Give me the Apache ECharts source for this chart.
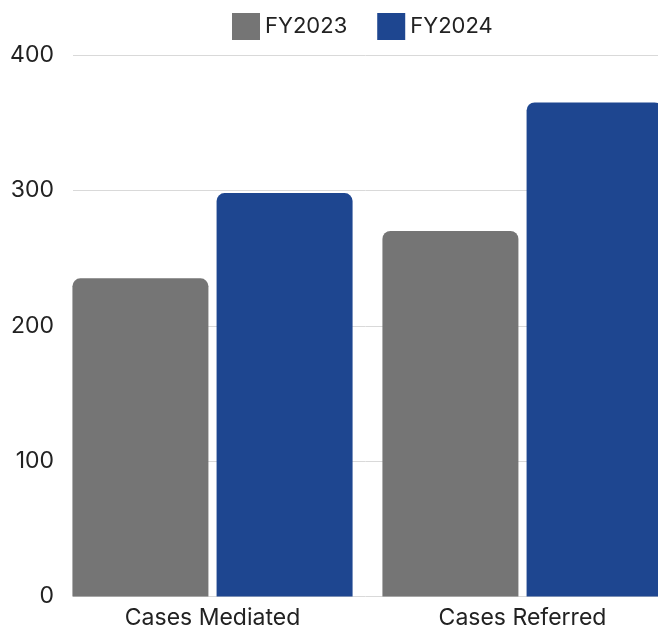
<!DOCTYPE html>
<html>
<head>
<meta charset="utf-8">
<script src="https://cdn.jsdelivr.net/npm/echarts@6/dist/echarts.min.js"></script>
<style>
	html, body { margin: 0; padding: 0; background: #fff; }
	#chart { width: 658px; height: 634px; }
</style>
</head>
<body>
<div id="chart"></div>
<script>
	var categories = ['Cases Mediated', 'Cases Referred'];
	var fy2023 = [235, 270];
	var fy2024 = [298, 365];
	var yTicks = [0, 100, 200, 300, 400];

	var fontFamily = 'Inter, "Noto Sans", sans-serif';
	var fontColor = '#222';

	var myChart = echarts.init(document.getElementById('chart'));
	myChart.setOption({
		color: ['#757575', '#1e4690'],
		animation: false,
		textStyle: { fontFamily: fontFamily },
		legend: {
			top: 8,
			left: 227,
			icon: 'rect',
			itemWidth: 28,
			itemHeight: 27,
			itemGap: 30,
			textStyle: { color: fontColor, fontSize: 22, fontFamily: fontFamily },
			data: ['FY2023', 'FY2024']
		},
		// grid 0 carries the value axis and gridlines, grid 1 carries the bars
		// (bars run past the right edge, so grid 1 is allowed outside the box)
		grid: [
			{ left: 73, right: 0, top: 55, bottom: 37.5, containLabel: false },
			{ left: 57.5, width: 620, top: 55, bottom: 37.5, containLabel: false, outerBoundsMode: 'none' }
		],
		xAxis: [{
			gridIndex: 0,
			type: 'value',
			show: false
		}, {
			gridIndex: 1,
			type: 'category',
			data: categories,
			axisLine: { show: false },
			axisTick: { show: false },
			axisLabel: { color: fontColor, fontSize: 23, margin: 10, fontFamily: fontFamily }
		}],
		yAxis: [{
			gridIndex: 0,
			type: 'value',
			min: yTicks[0],
			max: yTicks[yTicks.length - 1],
			interval: 100,
			axisLine: { show: false },
			axisTick: { show: false },
			axisLabel: { color: fontColor, fontSize: 23, margin: 19, fontFamily: fontFamily },
			splitLine: { show: true, lineStyle: { color: '#d9d9d9', width: 1 } }
		}, {
			gridIndex: 1,
			type: 'value',
			min: yTicks[0],
			max: yTicks[yTicks.length - 1],
			show: false,
			splitLine: { show: false }
		}],
		series: [{
			name: 'FY2023',
			type: 'bar',
			xAxisIndex: 1,
			yAxisIndex: 1,
			barWidth: 136,
			barGap: '6%',
			itemStyle: { borderRadius: [8, 8, 0, 0] },
			data: fy2023
		}, {
			name: 'FY2024',
			type: 'bar',
			xAxisIndex: 1,
			yAxisIndex: 1,
			barWidth: 136,
			barGap: '6%',
			itemStyle: { borderRadius: [8, 8, 0, 0] },
			data: fy2024
		}]
	});
</script>
</body>
</html>
